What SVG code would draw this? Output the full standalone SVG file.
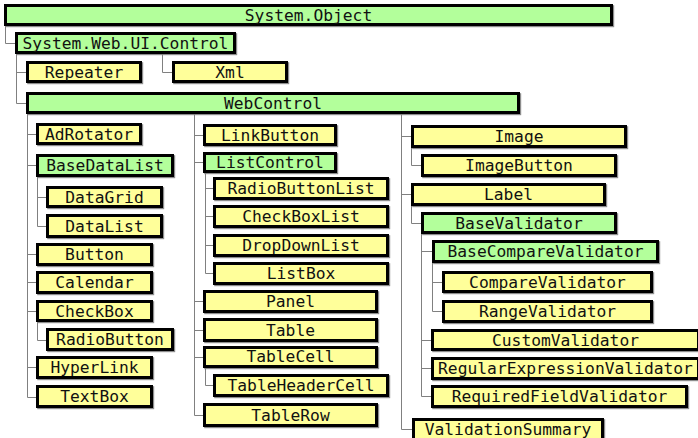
<svg xmlns="http://www.w3.org/2000/svg" width="698" height="438" viewBox="0 0 698 438">
<defs>
<filter id="sh" x="-5%" y="-20%" width="110%" height="150%">
<feDropShadow dx="1.2" dy="1.2" stdDeviation="0.4" flood-color="#808080" flood-opacity="0.9"/>
</filter>
</defs>
<style>
rect{stroke:#000;stroke-width:3;filter:url(#sh)}
.g rect{fill:#b3ff9b}
.y rect{fill:#ffff9a}
text{font-family:"DejaVu Sans Mono","Liberation Mono",monospace;font-size:16.3px;fill:#111;text-anchor:middle}
#connectors path{fill:none;stroke:#808080;stroke-width:1}
</style>
<rect width="698" height="438" fill="#fff" style="stroke:none;filter:none"/>
<g id="connectors">
<path d="M5.5 26V43.5H15"/>
<path d="M16.5 54V103.5H26M16.5 72.5H26"/>
<path d="M162.5 54V72.5H172"/>
<path d="M27.5 114V397.5H36M27.5 134.5H36M27.5 165.5H36M27.5 254.5H36M27.5 282.5H36M27.5 311.5H36M27.5 367.5H36"/>
<path d="M37.5 177V226.5H46M37.5 197.5H46"/>
<path d="M37.5 322V340.5H46"/>
<path d="M194.5 114V415.5H203M194.5 135.5H203M194.5 162.5H203M194.5 301.5H203M194.5 330.5H203M194.5 357.5H203"/>
<path d="M205.5 173V273.5H213M205.5 188.5H213M205.5 216.5H213M205.5 245.5H213"/>
<path d="M205.5 368V385.5H213"/>
<path d="M401.5 114V429.5H412M401.5 136.5H411M401.5 194.5H411"/>
<path d="M411.5 148V165.5H421"/>
<path d="M411.5 206V223.5H421"/>
<path d="M421.5 234V396.5H431M421.5 251.5H432M421.5 340.5H431M421.5 368.5H431"/>
<path d="M432.5 263V311.5H442M432.5 282.5H442"/>
</g>
<g id="n-object" class="g"><rect x="5.5" y="5.5" width="606" height="19"/><text x="308.5" y="21">System.Object</text></g>
<g id="n-control" class="g"><rect x="16.5" y="33.5" width="218" height="19"/><text x="125.5" y="49">System.Web.UI.Control</text></g>
<g id="n-repeater" class="y"><rect x="27.5" y="62.5" width="113" height="19"/><text x="84" y="78">Repeater</text></g>
<g id="n-xml" class="y"><rect x="173.5" y="62.5" width="113" height="19"/><text x="230" y="78">Xml</text></g>
<g id="n-webcontrol" class="g"><rect x="27.5" y="93.5" width="491" height="19"/><text x="273" y="109">WebControl</text></g>

<g id="n-adrotator" class="y"><rect x="37.5" y="124.5" width="103" height="19"/><text x="89" y="140">AdRotator</text></g>
<g id="n-basedatalist" class="g"><rect x="37.5" y="155.5" width="135" height="20"/><text x="105" y="171">BaseDataList</text></g>
<g id="n-datagrid" class="y"><rect x="47.5" y="187.5" width="114" height="19"/><text x="104.5" y="203">DataGrid</text></g>
<g id="n-datalist" class="y"><rect x="47.5" y="215.5" width="114" height="21"/><text x="104.5" y="232">DataList</text></g>
<g id="n-button" class="y"><rect x="37.5" y="244.5" width="114" height="20"/><text x="94.5" y="260">Button</text></g>
<g id="n-calendar" class="y"><rect x="37.5" y="272.5" width="114" height="20"/><text x="94.5" y="288">Calendar</text></g>
<g id="n-checkbox" class="y"><rect x="37.5" y="301.5" width="114" height="19"/><text x="94.5" y="317">CheckBox</text></g>
<g id="n-radiobutton" class="y"><rect x="47.5" y="329.5" width="125" height="20"/><text x="110" y="345">RadioButton</text></g>
<g id="n-hyperlink" class="y"><rect x="37.5" y="357.5" width="114" height="20"/><text x="94.5" y="373">HyperLink</text></g>
<g id="n-textbox" class="y"><rect x="37.5" y="386.5" width="114" height="20"/><text x="94.5" y="402">TextBox</text></g>

<g id="n-linkbutton" class="y"><rect x="204.5" y="125.5" width="131" height="19"/><text x="270" y="141">LinkButton</text></g>
<g id="n-listcontrol" class="g"><rect x="204.5" y="153.5" width="131" height="18"/><text x="270" y="168">ListControl</text></g>
<g id="n-radiobuttonlist" class="y"><rect x="214.5" y="178.5" width="173" height="20"/><text x="301" y="194">RadioButtonList</text></g>
<g id="n-checkboxlist" class="y"><rect x="214.5" y="206.5" width="173" height="20"/><text x="301" y="222">CheckBoxList</text></g>
<g id="n-dropdownlist" class="y"><rect x="214.5" y="235.5" width="173" height="20"/><text x="301" y="251">DropDownList</text></g>
<g id="n-listbox" class="y"><rect x="214.5" y="263.5" width="173" height="20"/><text x="301" y="279">ListBox</text></g>
<g id="n-panel" class="y"><rect x="204.5" y="291.5" width="172" height="20"/><text x="290.5" y="307">Panel</text></g>
<g id="n-table" class="y"><rect x="204.5" y="319.5" width="172" height="21"/><text x="290.5" y="336">Table</text></g>
<g id="n-tablecell" class="y"><rect x="204.5" y="347.5" width="172" height="19"/><text x="290.5" y="362">TableCell</text></g>
<g id="n-tableheadercell" class="y"><rect x="214.5" y="375.5" width="173" height="20"/><text x="301" y="391">TableHeaderCell</text></g>
<g id="n-tablerow" class="y"><rect x="204.5" y="404.5" width="172" height="21"/><text x="290.5" y="421">TableRow</text></g>

<g id="n-image" class="y"><rect x="412.5" y="126.5" width="213" height="20"/><text x="519" y="142">Image</text></g>
<g id="n-imagebutton" class="y"><rect x="422.5" y="155.5" width="193" height="20"/><text x="519" y="171">ImageButton</text></g>
<g id="n-label" class="y"><rect x="412.5" y="184.5" width="192" height="20"/><text x="508.5" y="200">Label</text></g>
<g id="n-basevalidator" class="g"><rect x="422.5" y="213.5" width="193" height="19"/><text x="519" y="229">BaseValidator</text></g>
<g id="n-basecomparevalidator" class="g"><rect x="433.5" y="241.5" width="224" height="20"/><text x="545.5" y="257">BaseCompareValidator</text></g>
<g id="n-comparevalidator" class="y"><rect x="443.5" y="272.5" width="208" height="19"/><text x="547.5" y="288">CompareValidator</text></g>
<g id="n-rangevalidator" class="y"><rect x="443.5" y="301.5" width="208" height="20"/><text x="547.5" y="317">RangeValidator</text></g>
<g id="n-customvalidator" class="y"><rect x="432.5" y="330.5" width="266" height="19"/><text x="565.5" y="346">CustomValidator</text></g>
<g id="n-regularexpressionvalidator" class="y"><rect x="432.5" y="358.5" width="266" height="20"/><text x="565.5" y="374">RegularExpressionValidator</text></g>
<g id="n-requiredfieldvalidator" class="y"><rect x="432.5" y="386.5" width="254" height="20"/><text x="559.5" y="402">RequiredFieldValidator</text></g>
<g id="n-validationsummary" class="y"><rect x="413.5" y="419.5" width="189" height="21"/><text x="508" y="435">ValidationSummary</text></g>
</svg>
